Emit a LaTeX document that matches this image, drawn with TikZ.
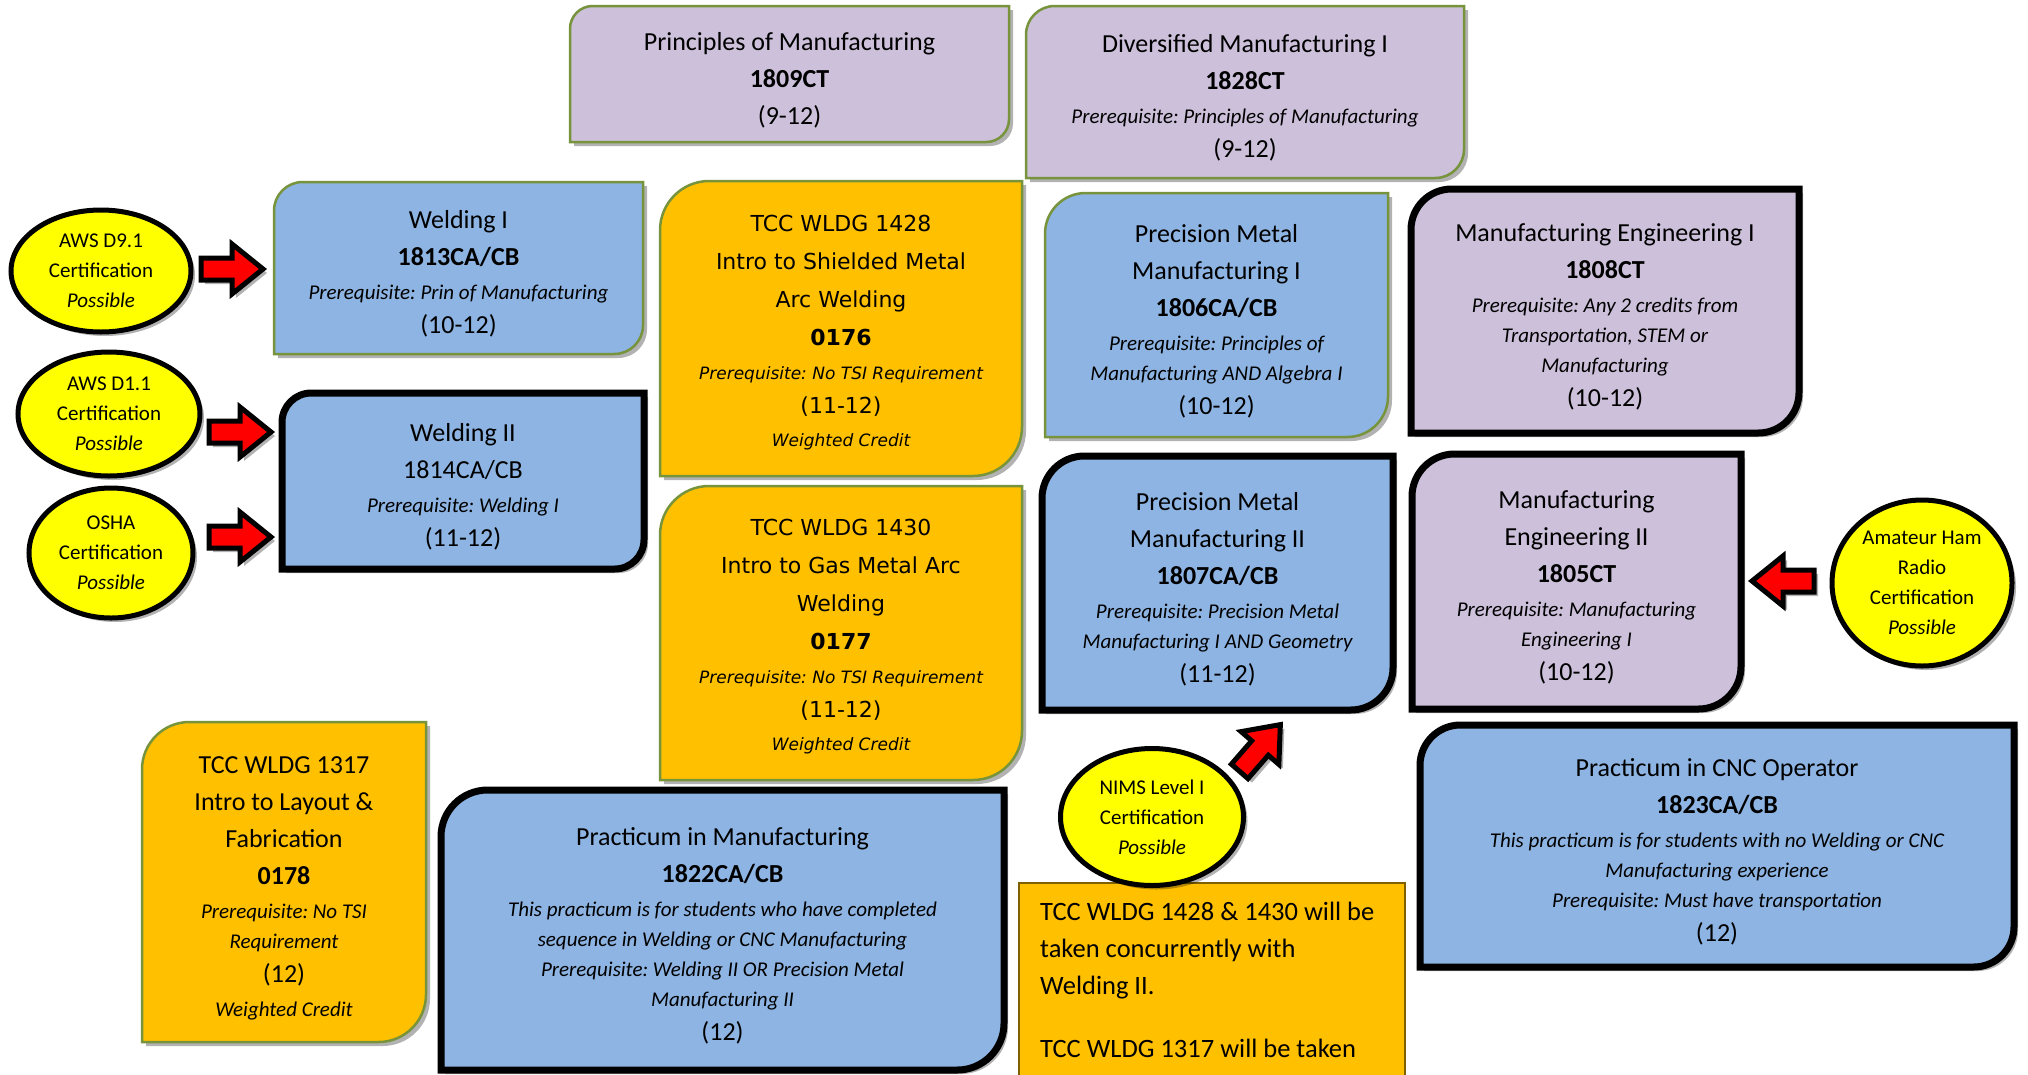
\documentclass[tikz,border=0pt]{standalone}
\usepackage{fontspec}
\setmainfont{Carlito}
\newfontfamily\verdana{DejaVu Sans}
\usepackage{tikz}
\usetikzlibrary{shapes.geometric,shadows}
\frenchspacing

\definecolor{lavender}{RGB}{204,192,218}
\definecolor{skyblue}{RGB}{141,180,226}
\definecolor{amber}{RGB}{255,192,0}
\definecolor{rimgreen}{RGB}{119,147,60}
\definecolor{certyellow}{RGB}{255,255,0}
\definecolor{arrowred}{RGB}{255,0,0}
\definecolor{notebrown}{RGB}{127,96,0}

\tikzset{
    softshadow/.style={drop shadow={shadow xshift=4pt,shadow yshift=-4pt,fill=black,opacity=0.3}},
    thinrim/.style={draw=rimgreen,line width=2.5pt,softshadow},
    thickrim/.style={draw=black,line width=7pt,softshadow},
    lavbox/.style={fill=lavender},
    bluebox/.style={fill=skyblue},
    ambbox/.style={fill=amber},
    coursetext/.style={align=center,inner sep=0pt,yshift=-6pt,font=\fontsize{26}{37}\selectfont},
    wldgtext/.style={align=center,inner sep=0pt,yshift=-4pt,font=\verdana\fontsize{22}{38}\selectfont},
    cert/.style={ellipse,draw=black,line width=5pt,fill=certyellow,softshadow,align=center,inner sep=0pt,font=\fontsize{21}{30}\selectfont},
    blockarrow/.style={draw=black,line width=5pt,fill=arrowred,line join=miter,softshadow},
    notebox/.style={draw=notebrown,line width=1.5pt,fill=amber},
    notetext/.style={align=left,inner sep=0pt,font=\fontsize{26.5}{37}\selectfont}
}

\newcommand{\prereq}[2][21]{{\fontsize{#1}{30}\selectfont\itshape #2}}

% box with rounded top-left and bottom-right corners
\newcommand{\course}[8]{%
    \pgfmathsetmacro{\rr}{0.1667*min(#6-#4,#7-#5)}%
    \pgfmathsetmacro{\rk}{0.448*\rr}%
    \draw[#2] (#4,#7) -- (#4,#5+\rr) .. controls (#4,#5+\rk) and (#4+\rk,#5) .. (#4+\rr,#5)
        -- (#6,#5) -- (#6,#7-\rr) .. controls (#6,#7-\rk) and (#6-\rk,#7) .. (#6-\rr,#7) -- cycle;
    \node[#3] (#1) at ({(#4+#6)/2},{(#5+#7)/2}) {#8};
}

\newcommand{\certarrow}[4]{%
    \coordinate (#1) at (#2,#3);
    \draw[blockarrow,shift={(#1)},rotate=#4] (-31,-11) -- (0,-11) -- (0,-25) -- (31,0) -- (0,25) -- (0,11) -- (-31,11) -- cycle;
}

\begin{document}
\begin{tikzpicture}[x=1pt,y=-1pt]
    \useasboundingbox (0,0) rectangle (2028,1074);
    \clip (0,0) rectangle (2028,1074);

    \course{pom}{lavbox,thinrim}{coursetext}{570}{6}{1009}{142}{Principles of Manufacturing\\ \textbf{1809CT}\\ (9-12)}
    \course{dm1}{lavbox,thinrim}{coursetext}{1026}{6}{1464}{178}{Diversified Manufacturing I\\ \textbf{1828CT}\\[-3pt] \prereq{Prerequisite: Principles of Manufacturing}\\[-3pt] (9-12)}
    \course{weld1}{bluebox,thinrim}{coursetext}{274}{182}{643}{354}{Welding I\\ \textbf{1813CA/CB}\\[-3pt] \prereq{Prerequisite: Prin of Manufacturing}\\[-3pt] (10-12)}
    \course{weld2}{bluebox,thickrim}{coursetext}{282}{393}{644}{569}{Welding II\\ 1814CA/CB\\[-3pt] \prereq{Prerequisite: Welding I}\\[-3pt] (11-12)}
    \course{wldg1428}{ambbox,thinrim}{wldgtext}{660}{181}{1022}{476}{TCC WLDG 1428\\ Intro to Shielded Metal\\ Arc Welding\\ \textbf{0176}\\[-4pt] \prereq[17]{Prerequisite: No TSI Requirement}\\[-4pt] (11-12)\\[-5pt] \prereq[17]{Weighted Credit}}
    \course{wldg1430}{ambbox,thinrim}{wldgtext}{660}{486}{1022}{780}{TCC WLDG 1430\\ Intro to Gas Metal Arc\\ Welding\\ \textbf{0177}\\[-4pt] \prereq[17]{Prerequisite: No TSI Requirement}\\[-4pt] (11-12)\\[-5pt] \prereq[17]{Weighted Credit}}
    \course{pmm1}{bluebox,thinrim}{coursetext}{1045}{193}{1388}{437}{Precision Metal\\ Manufacturing I\\ \textbf{1806CA/CB}\\[-3pt] \prereq{Prerequisite: Principles of}\\[-7pt] \prereq{Manufacturing AND Algebra I}\\[-3pt] (10-12)}
    \course{pmm2}{bluebox,thickrim}{coursetext}{1042}{456}{1393}{710}{Precision Metal\\ Manufacturing II\\ \textbf{1807CA/CB}\\[-3pt] \prereq{Prerequisite: Precision Metal}\\[-7pt] \prereq{Manufacturing I AND Geometry}\\[-3pt] (11-12)}
    \course{me1}{lavbox,thickrim}{coursetext}{1411}{189}{1799}{433}{Manufacturing Engineering I\\ \textbf{1808CT}\\[-3pt] \prereq{Prerequisite: Any 2 credits from}\\[-7pt] \prereq{Transportation, STEM or}\\[-7pt] \prereq{Manufacturing}\\[-3pt] (10-12)}
    \course{me2}{lavbox,thickrim}{coursetext}{1412}{454}{1741}{709}{Manufacturing\\ Engineering II\\ \textbf{1805CT}\\[-3pt] \prereq{Prerequisite: Manufacturing}\\[-7pt] \prereq{Engineering I}\\[-3pt] (10-12)}
    \course{wldg1317}{ambbox,thinrim}{coursetext}{142}{722}{426}{1042}{TCC WLDG 1317\\ Intro to Layout \&\\ Fabrication\\ \textbf{0178}\\[-3pt] \prereq{Prerequisite: No TSI}\\[-7pt] \prereq{Requirement}\\[-3pt] (12)\\[-3pt] \prereq{Weighted Credit}}
    \course{pman}{bluebox,thickrim}{coursetext}{441}{790}{1004}{1070}{Practicum in Manufacturing\\ \textbf{1822CA/CB}\\[-3pt] \prereq{This practicum is for students who have completed}\\[-7pt] \prereq{sequence in Welding or CNC Manufacturing}\\[-7pt] \prereq{Prerequisite: Welding II OR Precision Metal}\\[-7pt] \prereq{Manufacturing II}\\[-3pt] (12)}
    \course{pcnc}{bluebox,thickrim}{coursetext}{1420}{725}{2014}{967}{Practicum in CNC Operator\\ \textbf{1823CA/CB}\\[-3pt] \prereq{This practicum is for students with no Welding or CNC}\\[-7pt] \prereq{Manufacturing experience}\\[-7pt] \prereq{Prerequisite: Must have transportation}\\[-3pt] (12)}

    \draw[notebox] (1019,883) rectangle (1405,1130);
    \node[notetext,anchor=north west] (note) at (1040,902) {TCC WLDG 1428 \& 1430 will be\\ taken concurrently with\\ Welding II.\\[26pt] TCC WLDG 1317 will be taken};

    \node[cert,minimum width=180pt,minimum height=122pt] (aws91) at (101,271) {AWS D9.1\\ Certification\\ \textit{Possible}};
    \node[cert,minimum width=182pt,minimum height=124pt] (aws11) at (109,414) {AWS D1.1\\ Certification\\ \textit{Possible}};
    \node[cert,minimum width=164pt,minimum height=130pt] (osha) at (111,553) {OSHA\\ Certification\\ \textit{Possible}};
    \node[cert,minimum width=180pt,minimum height=166pt] (ham) at (1922,583) {Amateur Ham\\ Radio\\ Certification\\ \textit{Possible}};
    \node[cert,minimum width=183pt,minimum height=137pt] (nims) at (1152,817) {NIMS Level I\\ Certification\\ \textit{Possible}};

    \certarrow{toweld1}{232}{269}{0}
    \certarrow{toweld2a}{240}{432}{0}
    \certarrow{toweld2b}{240}{537}{0}
    \certarrow{tome2}{1783}{581}{180}
    \certarrow{topmm2}{1260}{748}{49}
\end{tikzpicture}
\end{document}
